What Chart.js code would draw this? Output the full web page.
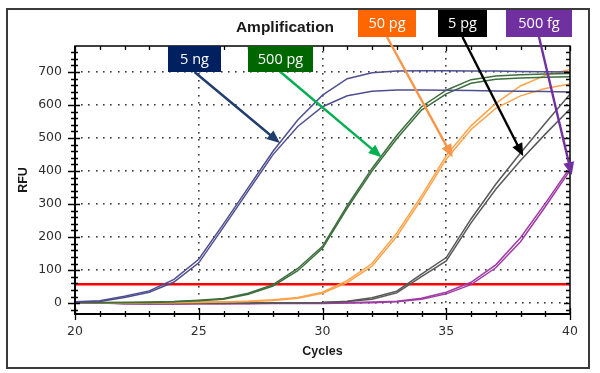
<!DOCTYPE html>
<html>
<head>
<meta charset="utf-8">
<script src="https://cdn.jsdelivr.net/npm/chart.js@4.4.1/dist/chart.umd.min.js"></script>
<style>
  html, body { margin: 0; padding: 0; background: #ffffff; }
  #wrap { position: relative; width: 600px; height: 373px; }
  canvas { display: block; }
</style>
</head>
<body>
<div id="wrap"><canvas id="c" width="600" height="373"></canvas></div>
<script>
// ---------------- DATA ----------------
const cycles = [20, 21, 22, 23, 24, 25, 26, 27, 28, 29, 30, 31, 32, 33, 34, 35, 36, 37, 38, 39, 40];

const rfu5ngA   = [4, 7, 21, 37, 72, 133, 240, 350, 460, 555, 630, 680, 698, 703, 704, 704, 703, 703, 702, 701, 700];
const rfu5ngB   = [2, 5, 17, 33, 64, 122, 230, 340, 450, 535, 595, 628, 642, 646, 646, 645, 644, 643, 642, 641, 640];
const rfu500pgA = [2, 2, 2, 3, 5, 9, 14, 30, 56, 105, 172, 295, 408, 508, 595, 645, 677, 688, 692, 694, 696];
const rfu500pgB = [1, 1, 2, 2, 4, 7, 12, 27, 52, 98, 166, 288, 400, 498, 585, 634, 666, 678, 682, 684, 686];
const rfu50pgA  = [1, 1, 1, 1, 2, 3, 4, 6, 10, 17, 33, 68, 120, 212, 325, 447, 537, 605, 658, 690, 708];
const rfu50pgB  = [0, 0, 0, 1, 1, 2, 3, 5, 8, 15, 30, 62, 112, 202, 315, 436, 526, 590, 628, 650, 664];
const rfu5pgA   = [3, 1, 0, 0, 0, 0, 0, 0, 1, 1, 2, 6, 16, 36, 88, 138, 255, 360, 455, 545, 633];
const rfu5pgB   = [2, 0, -1, -1, -1, -1, -1, 0, 0, 1, 2, 5, 12, 31, 80, 128, 243, 345, 432, 512, 588];
const rfu500fgA = [3, 1, -1, -2, -2, -1, -1, -1, 0, 0, 0, 1, 3, 6, 15, 33, 63, 116, 198, 302, 410];
const rfu500fgB = [2, 0, -2, -3, -3, -2, -2, -2, -1, -1, -1, 0, 1, 4, 12, 28, 56, 107, 186, 292, 402];

const thresholdCycles = [20, 40];
const thresholdRFU = [57, 57];

const xTickValues = [20, 25, 30, 35, 40];
const yTickValues = [0, 100, 200, 300, 400, 500, 600, 700];

const sampleLabels = ['5 ng', '500 pg', '50 pg', '5 pg', '500 fg'];
const arrowTipCycle = [28.28, 32.39, 35.26, 38.11, 40.07];
const arrowTipRFU   = [485, 442, 442, 445, 388];

// ---------------- STYLE / LAYOUT ----------------
const curveColors = ['#4f4f90', '#3d6e3d', '#ffa24a', '#585858', '#a03ca6'];
const boxColors   = ['#002060', '#006600', '#ff6600', '#000000', '#7030a0'];
const arrowColors = ['#1f3c6e', '#00b050', '#f7964a', '#000000', '#7030a0'];
const boxRects = [
  [168, 46, 53, 26],
  [248, 46, 65, 26],
  [358, 10, 58, 27],
  [438, 10, 49, 27],
  [506, 10, 66, 27]
];

function pts(ys) { return cycles.map((c, i) => ({ x: c, y: ys[i] })); }
function curve(ys, color) {
  return { data: pts(ys), borderColor: color, borderWidth: 1.5, pointRadius: 0, tension: 0, fill: false };
}

const datasets = [
  curve(rfu5ngA, curveColors[0]), curve(rfu5ngB, curveColors[0]),
  curve(rfu500pgA, curveColors[1]), curve(rfu500pgB, curveColors[1]),
  curve(rfu50pgA, curveColors[2]), curve(rfu50pgB, curveColors[2]),
  curve(rfu5pgA, curveColors[3]), curve(rfu5pgB, curveColors[3]),
  curve(rfu500fgA, curveColors[4]), curve(rfu500fgB, curveColors[4]),
  { data: thresholdCycles.map((c, i) => ({ x: c, y: thresholdRFU[i] })), borderColor: '#ff0000', borderWidth: 2.6, pointRadius: 0, fill: false }
];

const decor = {
  id: 'decor',
  beforeDraw(chart) {
    const ctx = chart.ctx;
    ctx.save();
    ctx.fillStyle = '#ffffff';
    ctx.fillRect(0, 0, chart.width, chart.height);
    ctx.strokeStyle = '#3a3a3a';
    ctx.lineWidth = 2;
    ctx.strokeRect(7, 9, 582, 359);
    ctx.restore();
  },
  beforeDatasetsDraw(chart) {
    const { ctx, chartArea: a, scales: { x, y } } = chart;
    ctx.save();
    ctx.fillStyle = '#3c3c3c';
    for (const v of yTickValues) {
      const py = Math.round(y.getPixelForValue(v));
      for (let px = a.left + 6; px < a.right - 3; px += 7.35) ctx.fillRect(Math.round(px), py - 1, 1.6, 1.6);
    }
    for (const v of xTickValues) {
      if (v === x.min || v === x.max) continue;
      const px = Math.round(x.getPixelForValue(v));
      for (let py = a.bottom - 6; py > a.top + 3; py -= 7.35) ctx.fillRect(px - 1, Math.round(py), 1.6, 1.6);
    }
    ctx.restore();
  },
  afterDatasetsDraw(chart) {
    const { ctx, chartArea: a, scales: { x, y } } = chart;
    ctx.save();
    ctx.strokeStyle = '#000000';
    ctx.lineWidth = 1.3;
    ctx.beginPath();
    for (let v = -20; v <= 760; v += 20) {
      const py = Math.round(y.getPixelForValue(v)) + 0.5;
      const major = v % 100 === 0;
      ctx.moveTo(a.left - (major ? 7 : 4), py); ctx.lineTo(a.left + (major ? 5 : 3), py);
      ctx.moveTo(a.right - (major ? 6 : 4), py); ctx.lineTo(a.right, py);
    }
    for (let c = 20; c <= 40; c++) {
      const px = Math.round(x.getPixelForValue(c)) + 0.5;
      const major = c % 5 === 0;
      ctx.moveTo(px, a.bottom - (major ? 6 : 3)); ctx.lineTo(px, a.bottom + (major ? 6 : 3));
      ctx.moveTo(px, a.top); ctx.lineTo(px, a.top + (major ? 5 : 4));
    }
    ctx.stroke();
    ctx.lineWidth = 1.5;
    ctx.strokeRect(a.left, a.top, a.right - a.left, a.bottom - a.top);
    ctx.lineWidth = 2;
    ctx.beginPath();
    ctx.moveTo(a.left, a.top); ctx.lineTo(a.left, a.bottom); ctx.lineTo(a.right, a.bottom);
    ctx.stroke();
    ctx.restore();
  },
  afterDraw(chart) {
    const { ctx, scales: { x, y } } = chart;
    ctx.save();
    sampleLabels.forEach((lab, i) => {
      const [bx, by, bw, bh] = boxRects[i];
      const sx = bx + bw / 2, sy = by + bh;
      const tx = x.getPixelForValue(arrowTipCycle[i]);
      const ty = y.getPixelForValue(arrowTipRFU[i]);
      const ang = Math.atan2(ty - sy, tx - sx);
      const hl = 13, hw = 5.5;
      const ex = tx - Math.cos(ang) * (hl - 2), ey = ty - Math.sin(ang) * (hl - 2);
      ctx.strokeStyle = arrowColors[i];
      ctx.fillStyle = arrowColors[i];
      ctx.lineWidth = 2.4;
      ctx.beginPath(); ctx.moveTo(sx, sy); ctx.lineTo(ex, ey); ctx.stroke();
      const bxh = tx - Math.cos(ang) * hl, byh = ty - Math.sin(ang) * hl;
      ctx.beginPath();
      ctx.moveTo(tx, ty);
      ctx.lineTo(bxh + Math.sin(ang) * hw, byh - Math.cos(ang) * hw);
      ctx.lineTo(bxh - Math.sin(ang) * hw, byh + Math.cos(ang) * hw);
      ctx.closePath(); ctx.fill();
    });
    ctx.font = '14.5px "Open Sans"';
    ctx.textAlign = 'center';
    ctx.textBaseline = 'middle';
    sampleLabels.forEach((lab, i) => {
      const [bx, by, bw, bh] = boxRects[i];
      ctx.fillStyle = boxColors[i];
      ctx.fillRect(bx, by, bw, bh);
      ctx.fillStyle = '#ffffff';
      ctx.fillText(lab, bx + bw / 2, by + bh / 2 + 0.5);
    });
    ctx.restore();
  }
};

new Chart(document.getElementById('c'), {
  type: 'line',
  data: { datasets },
  options: {
    responsive: false,
    animation: false,
    devicePixelRatio: 1,
    layout: { padding: { left: 0, right: 30, top: 0, bottom: 0 } },
    plugins: {
      legend: { display: false },
      tooltip: { enabled: false },
      title: {
        display: true,
        text: 'Amplification',
        color: '#1a1a1a',
        font: { family: '"Liberation Sans", Arial, sans-serif', size: 15.5, weight: 'bold', lineHeight: 1.2 },
        padding: { top: 18.7, bottom: 8.7 }
      }
    },
    scales: {
      x: {
        type: 'linear',
        min: 20, max: 40,
        afterBuildTicks: s => { s.ticks = xTickValues.map(v => ({ value: v })); },
        afterFit: s => { s.height = 59; },
        grid: { display: false, drawTicks: false },
        border: { display: false },
        ticks: { padding: 10, color: '#2e2e2e', font: { family: '"DejaVu Sans"', size: 12.5, lineHeight: 1.2 }, maxRotation: 0 },
        title: { display: true, text: 'Cycles', color: '#1a1a1a', font: { family: '"Liberation Sans", Arial', size: 12.5, weight: 'bold', lineHeight: 1.2 }, padding: { top: 0, bottom: 13.8 } }
      },
      y: {
        type: 'linear',
        min: -33, max: 779,
        afterBuildTicks: s => { s.ticks = yTickValues.map(v => ({ value: v })); },
        afterFit: s => { s.width = 75; },
        grid: { display: false, drawTicks: false },
        border: { display: false },
        ticks: { padding: 13, color: '#2e2e2e', font: { family: '"DejaVu Sans"', size: 12.5, lineHeight: 1.2 } },
        title: { display: true, text: 'RFU', color: '#1a1a1a', font: { family: '"Liberation Sans", Arial', size: 12.5, weight: 'bold', lineHeight: 1.2 }, padding: { top: 16.5, bottom: 0 } }
      }
    }
  },
  plugins: [decor]
});
</script>
</body>
</html>
